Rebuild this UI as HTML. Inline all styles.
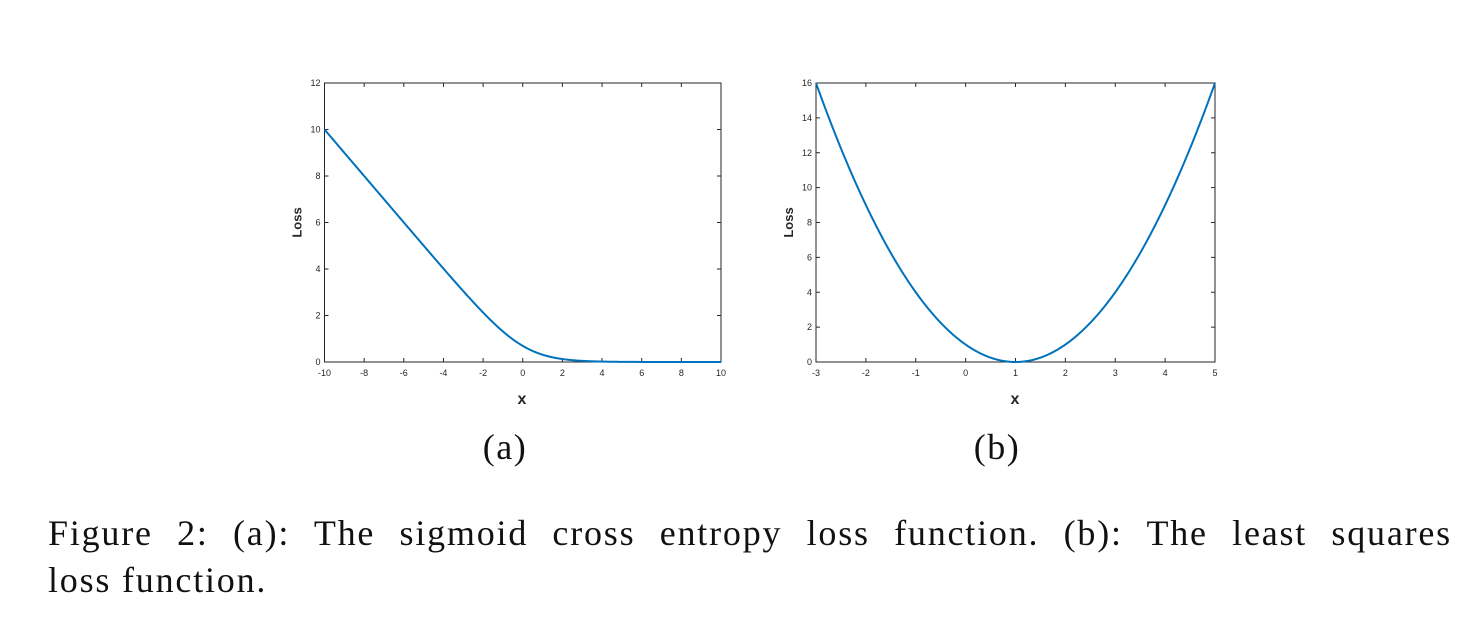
<!DOCTYPE html>
<html><head><meta charset="utf-8"><style>
body{margin:0;background:#fff;width:1484px;height:644px;overflow:hidden;position:relative}
.cap{position:absolute;left:48px;width:1404px;font-family:"Liberation Serif",serif;font-size:36px;letter-spacing:1.8px;color:#111;white-space:nowrap}
</style></head><body>
<svg id="s" width="1484" height="644" style="position:absolute;left:0;top:0" font-family="Liberation Sans, Arial, sans-serif"></svg>
<div class="cap" style="top:512px;text-align:justify;text-align-last:justify;">Figure 2: (a): The sigmoid cross entropy loss function. (b): The least squares</div>
<div class="cap" style="top:559px;">loss function.</div>
<script>
const s=document.getElementById('s');let h='';
function plot(L,R,T,B,x0,x1,xt,yt,y1,f,cx,lx,lab){
 const sx=v=>L+(v-x0)/(x1-x0)*(R-L), sy=v=>B-v/y1*(B-T);
 h+=`<rect x="${L}" y="${T}" width="${R-L}" height="${B-T}" fill="none" stroke="#262626" stroke-width="1"/>`;
 for(const v of xt){const X=sx(v);h+=`<line x1="${X}" y1="${B}" x2="${X}" y2="${B-4}" stroke="#262626"/><line x1="${X}" y1="${T}" x2="${X}" y2="${T+4}" stroke="#262626"/><text x="${X}" y="${B+14}" font-size="9" text-anchor="middle" fill="#262626">${v}</text>`;}
 for(const v of yt){const Y=sy(v);h+=`<line x1="${L}" y1="${Y}" x2="${L+4}" y2="${Y}" stroke="#262626"/><line x1="${R}" y1="${Y}" x2="${R-4}" y2="${Y}" stroke="#262626"/><text x="${L-4}" y="${Y+3}" font-size="9" text-anchor="end" fill="#262626">${v}</text>`;}
 let d='';for(let i=0;i<=400;i++){const x=x0+(x1-x0)*i/400;d+=(i?'L':'M')+sx(x).toFixed(2)+','+sy(f(x)).toFixed(2);}
 h+=`<path d="${d}" fill="none" stroke="#0072BD" stroke-width="2"/>`;
 h+=`<text x="${cx}" y="404" font-size="16" font-weight="bold" text-anchor="middle" fill="#262626">x</text>`;
 h+=`<text transform="translate(${L-23},${(T+B)/2}) rotate(-90)" font-size="13" font-weight="bold" text-anchor="middle" fill="#262626">Loss</text>`;
 h+=`<text x="${lx}" y="459" font-size="36" letter-spacing="1.5" font-family="Liberation Serif, serif" text-anchor="middle" fill="#111">${lab}</text>`;
}
plot(324.5,721,83,362,-10,10,[-10,-8,-6,-4,-2,0,2,4,6,8,10],[0,2,4,6,8,10,12],12,x=>Math.log(1+Math.exp(-x)),522,505,'(a)');
plot(816,1215,83,362,-3,5,[-3,-2,-1,0,1,2,3,4,5],[0,2,4,6,8,10,12,14,16],16,x=>(x-1)*(x-1),1015,997,'(b)');
s.innerHTML=h;
</script>
</body></html>
